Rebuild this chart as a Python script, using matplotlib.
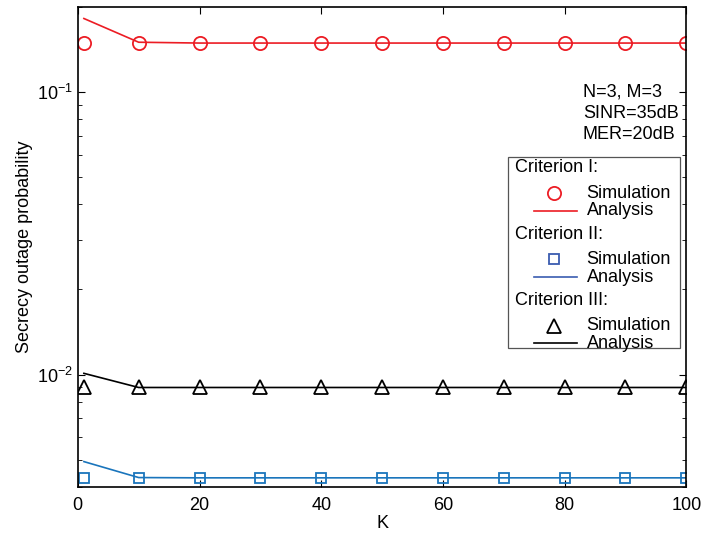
import matplotlib
matplotlib.use('Agg')
import matplotlib.pyplot as plt
from matplotlib.lines import Line2D
from matplotlib.patches import Rectangle

plt.rcParams['font.family'] = ['Liberation Sans', 'DejaVu Sans']
plt.rcParams['mathtext.fontset'] = 'custom'
plt.rcParams['mathtext.rm'] = 'Liberation Sans'

# 데이터
K = [1, 10, 20, 30, 40, 50, 60, 70, 80, 90, 100]
sim_1 = [0.149] * 11
ana_1 = [0.182, 0.150, 0.149, 0.149, 0.149, 0.149, 0.149, 0.149, 0.149, 0.149, 0.149]
sim_2 = [0.00431] * 11
ana_2 = [0.00492, 0.00432, 0.00431, 0.00431, 0.00431, 0.00431, 0.00431, 0.00431, 0.00431, 0.00431, 0.00431]
sim_3 = [0.0090] * 11
ana_3 = [0.0101, 0.0090, 0.0090, 0.0090, 0.0090, 0.0090, 0.0090, 0.0090, 0.0090, 0.0090, 0.0090]

red = '#ec1c24'
blue = '#1a75bc'
blue_leg = '#3a5cb0'
fs = 13

fig = plt.figure(figsize=(7.01, 5.33), dpi=100)
ax = fig.add_axes([0.111, 0.0863, 0.868, 0.9007])

ax.plot(K, ana_1, color=red, lw=1.2)
ax.plot(K, sim_1, 'o', color=red, mfc='none', ms=9.5, mew=1.3)
ax.plot(K, ana_2, color=blue, lw=1.2)
ax.plot(K, sim_2, 's', color=blue, mfc='none', ms=7.5, mew=1.3)
ax.plot(K, ana_3, color='black', lw=1.2)
ax.plot(K, sim_3, '^', color='black', mfc='none', ms=10, mew=1.3)

ax.set_yscale('log')
ax.set_xlim(0, 100)
ax.set_ylim(0.004, 0.2)
ax.set_xticks(range(0, 101, 20))
ax.tick_params(which='both', direction='in', top=True, right=True, labelsize=fs)
ax.tick_params(which='major', length=5)
ax.tick_params(which='minor', length=3)
ax.tick_params(axis='x', pad=7)
for s in ax.spines.values():
    s.set_linewidth(1.2)
ax.set_xlabel('K', fontsize=fs, labelpad=1)
ax.set_ylabel('Secrecy outage probability', fontsize=fs, labelpad=3)

# 주석
ax.text(0.83, 0.84, 'N=3, M=3\nSINR=35dB\nMER=20dB', transform=ax.transAxes,
        fontsize=fs, va='top', ha='left', linespacing=1.3)

# 범례 (수동)
ax.add_patch(Rectangle((0.707, 0.29), 0.283, 0.3975, transform=ax.transAxes,
                       fill=False, edgecolor='#555555', lw=0.9))
groups = [('Criterion I:', 'o', red, red, 9.5),
          ('Criterion II:', 's', blue_leg, blue_leg, 7),
          ('Criterion III:', '^', 'black', 'black', 10)]
y0 = 0.665
for title, mk, mc, lc, ms in groups:
    ax.text(0.719, y0, title, transform=ax.transAxes, fontsize=fs, va='center')
    ax.add_line(Line2D([0.783], [y0 - 0.053], marker=mk, color=mc, mfc='none', ms=ms,
                       mew=1.3, transform=ax.transAxes))
    ax.text(0.836, y0 - 0.053, 'Simulation', transform=ax.transAxes, fontsize=fs, va='center')
    ax.add_line(Line2D([0.75, 0.82], [y0 - 0.09, y0 - 0.09], color=lc, lw=1.2,
                       transform=ax.transAxes))
    ax.text(0.836, y0 - 0.09, 'Analysis', transform=ax.transAxes, fontsize=fs, va='center')
    y0 -= 0.138

fig.savefig('out.png', dpi=100)
